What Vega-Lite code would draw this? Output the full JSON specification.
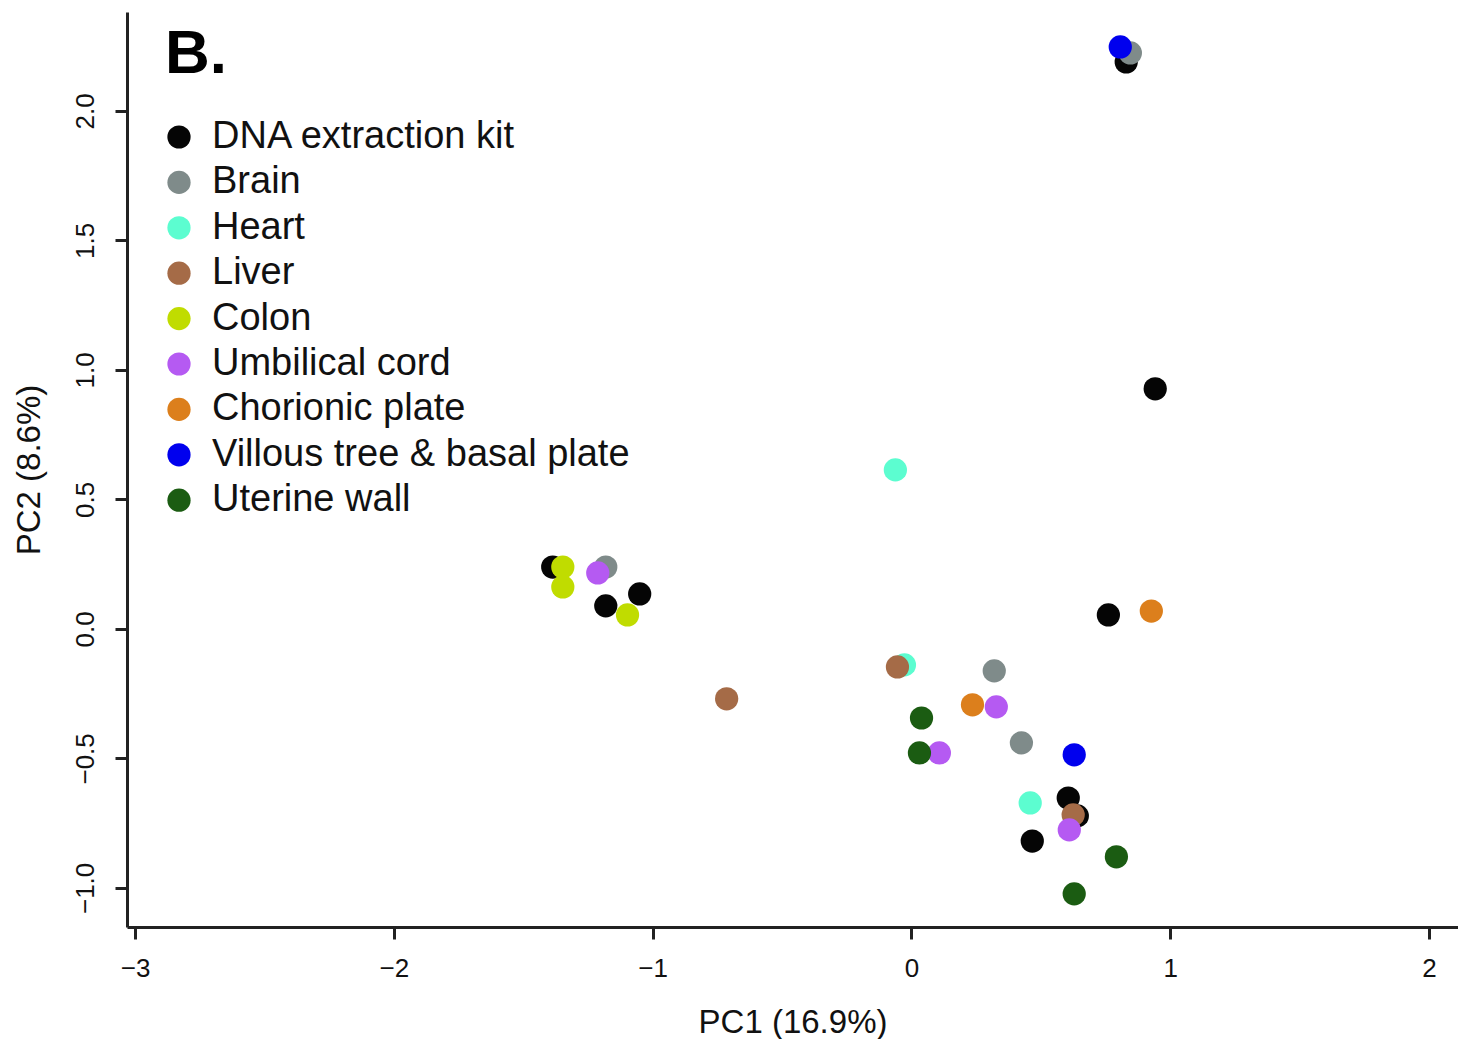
{
  "$schema": "https://vega.github.io/schema/vega-lite/v6.json",
  "width": 1331,
  "height": 915,
  "autosize": {"type": "none"},
  "padding": {"left": 127, "top": 12, "right": 0, "bottom": 112},
  "background": "white",
  "config": {
    "view": {"stroke": null},
    "font": "Liberation Sans",
    "axis": {"grid": false, "domainColor": "#222222", "domainWidth": 3, "tickColor": "#222222", "tickWidth": 3, "tickSize": 12, "labelColor": "#111111", "titleColor": "#111111", "labelFont": "Liberation Sans", "titleFont": "Liberation Sans", "labelFontSize": 26, "titleFontSize": 33, "titleFontWeight": "normal"}
  },
  "data": {
    "values": [
      {"PC1": 0.830, "PC2": 2.189, "group": "DNA extraction kit"},
      {"PC1": 0.942, "PC2": 0.927, "group": "DNA extraction kit"},
      {"PC1": -1.386, "PC2": 0.239, "group": "DNA extraction kit"},
      {"PC1": -1.181, "PC2": 0.089, "group": "DNA extraction kit"},
      {"PC1": -1.050, "PC2": 0.135, "group": "DNA extraction kit"},
      {"PC1": 0.761, "PC2": 0.054, "group": "DNA extraction kit"},
      {"PC1": 0.606, "PC2": -0.653, "group": "DNA extraction kit"},
      {"PC1": 0.641, "PC2": -0.722, "group": "DNA extraction kit"},
      {"PC1": 0.467, "PC2": -0.819, "group": "DNA extraction kit"},
      {"PC1": 0.846, "PC2": 2.224, "group": "Brain"},
      {"PC1": -1.181, "PC2": 0.239, "group": "Brain"},
      {"PC1": 0.320, "PC2": -0.162, "group": "Brain"},
      {"PC1": 0.425, "PC2": -0.440, "group": "Brain"},
      {"PC1": -0.062, "PC2": 0.614, "group": "Heart"},
      {"PC1": -0.027, "PC2": -0.139, "group": "Heart"},
      {"PC1": 0.459, "PC2": -0.672, "group": "Heart"},
      {"PC1": -0.714, "PC2": -0.270, "group": "Liver"},
      {"PC1": -0.054, "PC2": -0.147, "group": "Liver"},
      {"PC1": 0.625, "PC2": -0.718, "group": "Liver"},
      {"PC1": -1.347, "PC2": 0.239, "group": "Colon"},
      {"PC1": -1.347, "PC2": 0.162, "group": "Colon"},
      {"PC1": -1.097, "PC2": 0.054, "group": "Colon"},
      {"PC1": -1.212, "PC2": 0.216, "group": "Umbilical cord"},
      {"PC1": 0.328, "PC2": -0.301, "group": "Umbilical cord"},
      {"PC1": 0.108, "PC2": -0.479, "group": "Umbilical cord"},
      {"PC1": 0.610, "PC2": -0.776, "group": "Umbilical cord"},
      {"PC1": 0.927, "PC2": 0.069, "group": "Chorionic plate"},
      {"PC1": 0.236, "PC2": -0.293, "group": "Chorionic plate"},
      {"PC1": 0.807, "PC2": 2.247, "group": "Villous tree & basal plate"},
      {"PC1": 0.629, "PC2": -0.486, "group": "Villous tree & basal plate"},
      {"PC1": 0.039, "PC2": -0.344, "group": "Uterine wall"},
      {"PC1": 0.031, "PC2": -0.479, "group": "Uterine wall"},
      {"PC1": 0.792, "PC2": -0.880, "group": "Uterine wall"},
      {"PC1": 0.629, "PC2": -1.023, "group": "Uterine wall"}
    ]
  },
  "mark": {"type": "point", "filled": true, "shape": "circle", "size": 540, "opacity": 1, "strokeWidth": 0},
  "encoding": {
    "x": {
      "field": "PC1", "type": "quantitative",
      "scale": {"domain": [-3.031, 2.112], "nice": false, "zero": false},
      "axis": {"values": [-3, -2, -1, 0, 1, 2], "title": "PC1 (16.9%)", "labelPadding": 16, "titlePadding": 25, "format": "d", "labelFlush": false}
    },
    "y": {
      "field": "PC2", "type": "quantitative",
      "scale": {"domain": [-1.151, 2.382], "nice": false, "zero": false},
      "axis": {"values": [-1, -0.5, 0, 0.5, 1, 1.5, 2], "title": "PC2 (8.6%)", "format": ".1f", "labelAngle": -90, "labelAlign": "center", "labelBaseline": "bottom", "labelPadding": 17, "titlePadding": 26, "labelFlush": false}
    },
    "color": {
      "field": "group", "type": "nominal",
      "scale": {
        "domain": ["DNA extraction kit", "Brain", "Heart", "Liver", "Colon", "Umbilical cord", "Chorionic plate", "Villous tree & basal plate", "Uterine wall"],
        "range": ["#050505", "#7f8b8a", "#5cfdd0", "#a56b47", "#c0dc00", "#b55af2", "#dc7f1c", "#0000ee", "#1b5c12"]
      },
      "legend": {
        "title": "B.",
        "orient": "none",
        "legendX": 38,
        "legendY": 12,
        "padding": 0,
        "titleFontSize": 62,
        "titleFontWeight": "bold",
        "titleColor": "#000000",
        "titlePadding": 32,
        "labelFontSize": 38,
        "labelColor": "#111111",
        "labelOffset": 14,
        "symbolOffset": -5,
        "symbolType": "circle",
        "symbolSize": 540,
        "symbolStrokeWidth": 0,
        "symbolOpacity": 1,
        "rowPadding": 7.4,
        "labelLimit": 1000
      }
    }
  }
}
